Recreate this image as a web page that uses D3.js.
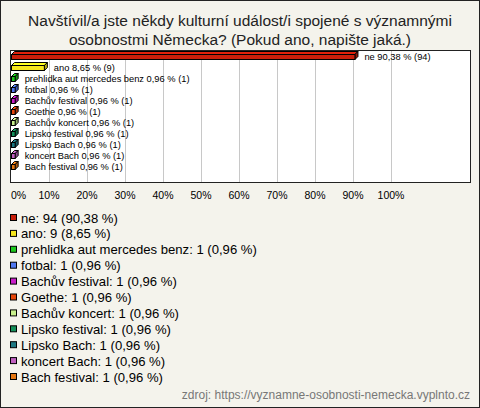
<!DOCTYPE html>
<html><head><meta charset="utf-8">
<script src="https://cdn.jsdelivr.net/npm/d3@7"></script>
<style>body{margin:0;background:#fff}svg{display:block}</style>
</head><body>
<svg id="c" width="480" height="408"></svg>
<script>
const categories = ["ne","ano","prehlidka aut mercedes benz","fotbal","Bachův festival","Goethe","Bachův koncert","Lipsko festival","Lipsko Bach","koncert Bach","Bach festival"];
const counts = [94,9,1,1,1,1,1,1,1,1,1];
const percents = [90.38,8.65,0.96,0.96,0.96,0.96,0.96,0.96,0.96,0.96,0.96];
const colors = ["#c81e0a","#f5e61e","#1ec81e","#5078f0","#c81ec8","#e6460a","#c8f08c","#14905a","#1e7882","#c060c0","#e67814"];
const tickValues = [0,10,20,30,40,50,60,70,80,90,100];
const titleLines = ["Navštívil/a jste někdy kulturní událost/i spojené s významnými","osobnostmi Německa? (Pokud ano, napište jaká.)"];
const sourceText = "zdroj: https://vyznamne-osobnosti-nemecka.vyplnto.cz";

const fmt = v => v.toFixed(2).replace(".", ",");
const svg = d3.select("#c");
const font = "Liberation Sans, Arial, sans-serif";

svg.append("rect").attr("x",0.5).attr("y",0.5).attr("width",479).attr("height",407)
  .attr("fill","#f4f3ec").attr("stroke","#222");

svg.append("g").selectAll("text").data(titleLines).join("text")
  .attr("x",240).attr("y",(d,i)=>26+i*19).attr("text-anchor","middle")
  .attr("font-family",font).attr("font-size",15.5).attr("fill","#222").text(d=>d);

const x = d3.scaleLinear().domain([0,100]).range([11,391]);
const y = d3.scaleBand().domain(categories).range([51,172]);

svg.append("rect").attr("x",10.5).attr("y",50.5).attr("width",460).attr("height",132)
  .attr("fill","#fff").attr("stroke","#222");

svg.append("g").selectAll("line").data(tickValues.slice(1)).join("line")
  .attr("x1",d=>x(d)+0.5).attr("x2",d=>x(d)+0.5).attr("y1",51).attr("y2",182)
  .attr("stroke","#c8c8c8");

const depth = 3, bh = 5;
const bars = svg.append("g").selectAll("g").data(categories).join("g");
bars.each(function(c,i){
  const g = d3.select(this);
  const x0 = x(0)+0.5, x1 = x(percents[i])+0.5;
  const yc = y(c)+y.bandwidth()/2;
  const top = Math.round(yc - bh/2)+0.5;
  const col = d3.color(colors[i]);
  g.append("path").attr("d",`M${x0},${top}L${x0+depth},${top-depth}L${x1+depth},${top-depth}L${x1},${top}Z`)
    .attr("fill",col.brighter(0.3)).attr("stroke","#000").attr("stroke-width",1);
  g.append("path").attr("d",`M${x1},${top}L${x1+depth},${top-depth}L${x1+depth},${top-depth+bh}L${x1},${top+bh}Z`)
    .attr("fill",col.darker(0.8)).attr("stroke","#000").attr("stroke-width",1);
  g.append("rect").attr("x",x0).attr("y",top).attr("width",x1-x0).attr("height",bh)
    .attr("fill",colors[i]).attr("stroke","#000").attr("stroke-width",1);
  g.append("text").attr("x",x(percents[i])+depth+7).attr("y",yc+3)
    .attr("font-family",font).attr("font-size",9.3).attr("fill","#000")
    .text(`${c} ${fmt(percents[i])} % (${counts[i]})`);
});

svg.append("g").selectAll("text").data(tickValues).join("text")
  .attr("x",d=>x(d)).attr("y",199)
  .attr("text-anchor",d=>d===0?"start":"middle")
  .attr("font-family",font).attr("font-size",10.5).attr("fill","#000")
  .text(d=>d+"%");

const leg = svg.append("g").selectAll("g").data(categories).join("g")
  .attr("transform",(d,i)=>`translate(0,${218+i*15.9})`);
leg.append("rect").attr("x",10.5).attr("y",-3.5).attr("width",6).attr("height",6)
  .attr("fill",(d,i)=>colors[i]).attr("stroke","#000");
leg.append("text").attr("x",21).attr("y",4.5)
  .attr("font-family",font).attr("font-size",13.1).attr("fill","#000")
  .text((d,i)=>`${d}: ${counts[i]} (${fmt(percents[i])} %)`);

svg.append("text").attr("x",470).attr("y",399).attr("text-anchor","end")
  .attr("font-family",font).attr("font-size",12).attr("fill","#777").text(sourceText);
</script>
</body></html>
